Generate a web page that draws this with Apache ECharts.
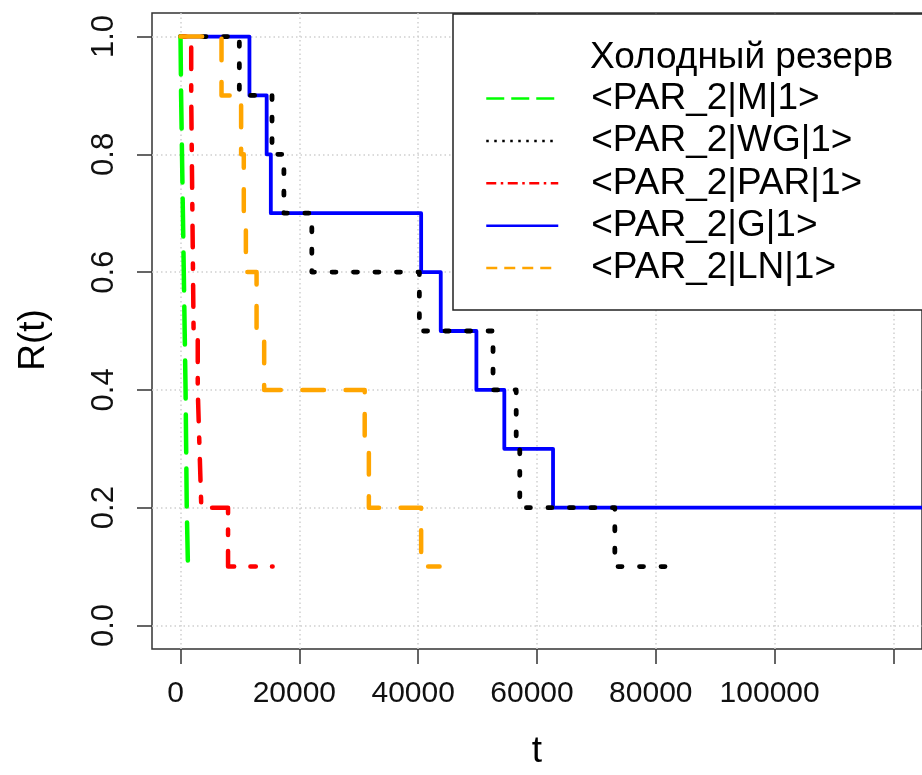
<!DOCTYPE html>
<html><head><meta charset="utf-8">
<script src="https://cdn.jsdelivr.net/npm/echarts@6/dist/echarts.min.js"></script>
<style>html,body{margin:0;padding:0;background:#fff;overflow:hidden}#c{width:922px;height:775px}</style>
</head><body><div id="c"></div>
<script>
// ---- data ----
const legendTitle = 'Холодный резерв';
const seriesNames = ['<PAR_2|M|1>', '<PAR_2|WG|1>', '<PAR_2|PAR|1>', '<PAR_2|G|1>', '<PAR_2|LN|1>'];
const xTicks = [0, 20000, 40000, 60000, 80000, 100000, 120000];
const xTickLabels = [0, 20000, 40000, 60000, 80000, 100000];
const yTicks = [0, 0.2, 0.4, 0.6, 0.8, 1.0];
const xTitle = 't';
const yTitle = 'R(t)';

const tM  = [0, 100, 250, 400, 550, 700, 850, 950, 1050, 1250, 2100];
const rM  = [1.0, 0.9, 0.8, 0.7, 0.6, 0.5, 0.4, 0.3, 0.2, 0.1, 0.1];
const tWG = [0, 9900, 15400, 17400, 22100, 40200, 52600, 56500, 57100, 73100, 83250];
const rWG = [1.0, 0.9, 0.8, 0.7, 0.6, 0.5, 0.4, 0.3, 0.2, 0.1, 0.1];
const tPAR = [0, 1800, 1900, 2000, 2100, 2200, 2900, 3200, 3500, 8000, 15500];
const rPAR = [1.0, 0.9, 0.8, 0.7, 0.6, 0.5, 0.4, 0.3, 0.2, 0.1, 0.1];
const tG  = [0, 11600, 14500, 15200, 40500, 43800, 49800, 54500, 62700, 126000];
const rG  = [1.0, 0.9, 0.8, 0.7, 0.6, 0.5, 0.4, 0.3, 0.2, 0.2];
const tLN = [0, 6900, 10200, 10650, 11000, 12800, 14080, 31000, 31700, 40500, 43600];
const rLN = [1.0, 0.9, 0.8, 0.7, 0.6, 0.5, 0.4, 0.3, 0.2, 0.1, 0.1];

// ---- styles ----
const pairs = (t, r) => t.map((v, i) => [v, r[i]]);
const defs = [
  // drawing order
  { name: seriesNames[3], data: pairs(tG, rG),   color: '#0000FF', width: 3.8, dash: 'solid' },
  { name: seriesNames[1], data: pairs(tWG, rWG), color: '#000000', width: 4.8, dash: [4, 17.5] },
  { name: seriesNames[2], data: pairs(tPAR, rPAR), color: '#FF0000', width: 4.5, dash: [5.4, 16.2, 21.6, 16.2] },
  { name: seriesNames[0], data: pairs(tM, rM),   color: '#00FF00', width: 4.5, dash: [38, 16] },
  { name: seriesNames[4], data: pairs(tLN, rLN), color: '#FFA500', width: 4.5, dash: [21.6, 21.6] }
];
const legendDash = {};
legendDash[seriesNames[0]] = [18, 7];
legendDash[seriesNames[1]] = [2.5, 5.5];
legendDash[seriesNames[2]] = [10, 4.5, 2.5, 4.5];
legendDash[seriesNames[3]] = 'solid';
legendDash[seriesNames[4]] = [11, 7];

const tickFont = '"Liberation Sans", Arial, sans-serif';
const mainFont = '"Liberation Sans", Arial, sans-serif';
const gridLine = { show: true, lineStyle: { color: '#cfcfcf', type: [1.5, 3], width: 1.5 } };

const chart = echarts.init(document.getElementById('c'), null, { renderer: 'canvas' });
chart.setOption({
  animation: false,
  backgroundColor: '#ffffff',
  grid: { left: 152, top: 13, right: -8, bottom: 123, show: true, borderColor: '#333', borderWidth: 1.5, backgroundColor: 'transparent' },
  xAxis: {
    type: 'value', min: -4800, max: 124800,
    axisLine: { show: false, onZero: false },
    axisTick: { show: true, customValues: xTicks, length: 15, lineStyle: { color: '#333', width: 1.5 } },
    axisLabel: { customValues: xTickLabels, margin: 30, fontSize: 30, fontFamily: tickFont, color: '#111',
      padding: [0, 10, 0, 0], hideOverlap: false, formatter: v => String(v) },
    splitLine: gridLine,
    name: xTitle, nameLocation: 'middle', nameGap: 84,
    nameTextStyle: { fontSize: 37, fontFamily: mainFont, color: '#000' }
  },
  yAxis: {
    type: 'value', min: -0.04, max: 1.04,
    axisLine: { show: false, onZero: false },
    axisTick: { show: true, customValues: yTicks, length: 15, lineStyle: { color: '#333', width: 1.5 } },
    axisLabel: { customValues: yTicks, rotate: 90, margin: 32, fontSize: 31, fontFamily: tickFont, color: '#111',
      hideOverlap: false, formatter: v => v.toFixed(1) },
    splitLine: gridLine,
    name: yTitle, nameLocation: 'middle', nameGap: 100,
    nameTextStyle: { fontSize: 37, fontFamily: mainFont, color: '#000', padding: [0, 18, 0, 0] }
  },
  legend: {
    orient: 'vertical', left: 485, top: 77.3, padding: 0, itemGap: 0,
    itemWidth: 72, itemHeight: 20, selectedMode: false, z: 6,
    data: seriesNames.map(n => ({ name: n, itemStyle: { opacity: 0 },
      lineStyle: { width: 2.5, type: legendDash[n], cap: 'butt', opacity: 1 } })),
    textStyle: { fontSize: 37, fontFamily: mainFont, color: '#000', lineHeight: 42.4, padding: [0, 0, 0, 28] }
  },
  graphic: [
    { type: 'rect', z: 5, shape: { x: 453, y: 14, width: 520, height: 296 },
      style: { fill: '#ffffff', stroke: '#222', lineWidth: 1.5 } },
    { type: 'text', z: 7, left: 590, top: 39,
      style: { text: legendTitle, font: '37px "Liberation Sans", Arial, sans-serif', fill: '#000' } }
  ],
  series: defs.map(d => ({
    type: 'line', name: d.name, data: d.data, step: 'end',
    symbol: 'none', showSymbol: false, clip: true,
    lineStyle: { color: d.color, width: d.width, type: d.dash, cap: 'round', join: 'round' },
    itemStyle: { color: d.color },
    emphasis: { disabled: true }
  }))
});
</script></body></html>
